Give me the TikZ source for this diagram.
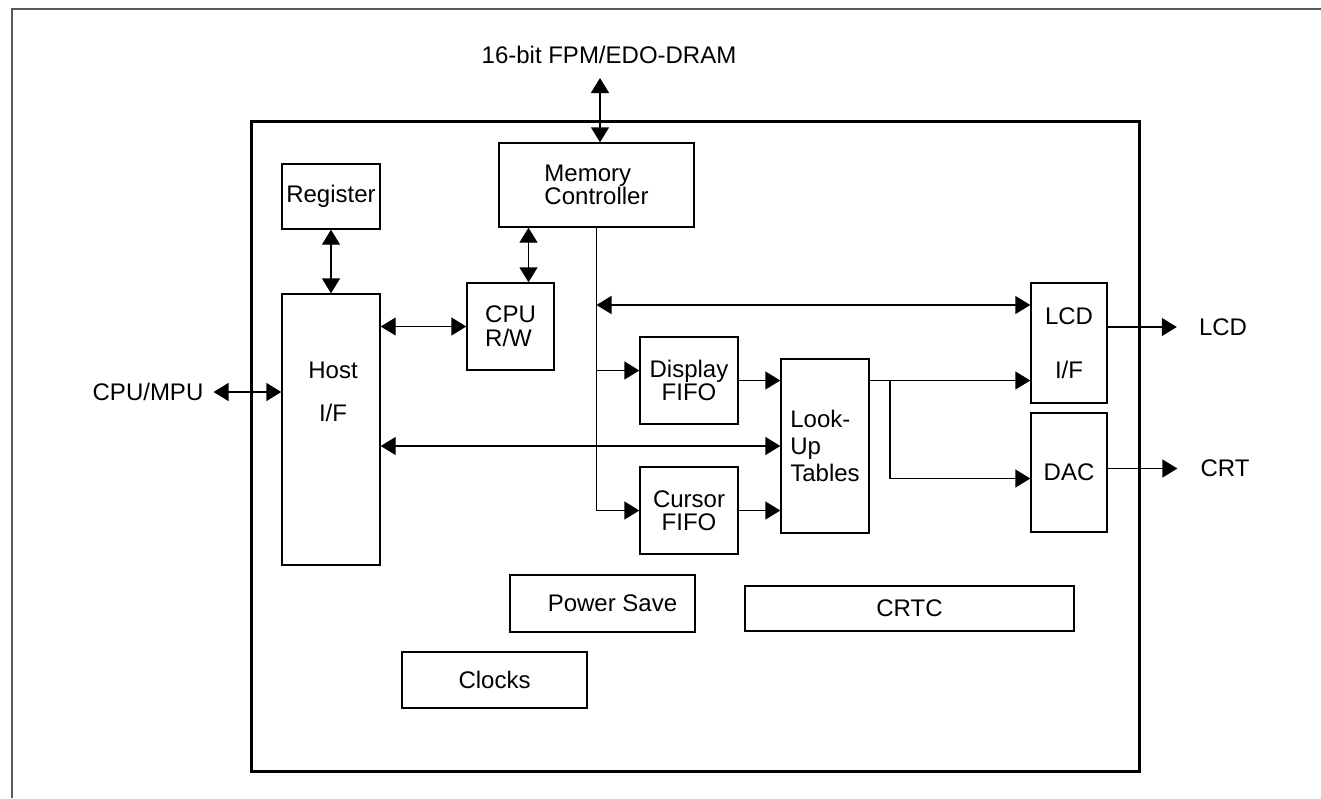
\documentclass[tikz,border=0pt]{standalone}
\usepackage{fontspec}
\setmainfont{Liberation Sans}
\usepackage{tikz}
\usetikzlibrary{arrows.meta,positioning,calc}

\begin{document}
\begin{tikzpicture}[
    x=1pt, y=-1pt,
    box/.style={
        rectangle,
        draw,
        line width=1.4pt,
        align=center,
        inner sep=0pt,
        font=\fontsize{24}{23}\selectfont
    },
    lbl/.style={
        inner sep=0pt,
        align=center,
        font=\fontsize{24}{23}\selectfont
    },
    arrow/.style={
        line width=1.4pt,
        -{Triangle[length=15pt,width=18pt]}
    },
    dblarrow/.style={
        line width=1.4pt,
        {Triangle[length=15pt,width=18pt]}-{Triangle[length=15pt,width=18pt]}
    }
]
\useasboundingbox (0,0) rectangle (1321,798);

% Page frame and chip outline
\draw[line width=2pt, black!65] (12,798) -- (12,9) -- (1321,9);
\draw[line width=3pt] (251,121) rectangle (1139,771);

% Top row
\node[box, align=left, minimum width=195pt, minimum height=84pt] (memctrl) at (596.5,185) {Memory\\Controller};
\node[box, minimum width=98pt, minimum height=65pt] (reg) at (331,196.5) {Register};
\node[lbl] (dram) at (609,55) {16-bit FPM/EDO-DRAM};
\coordinate (dramtip) at (600,78);

% Host side
\node[box, minimum width=98pt, minimum height=271pt] (host) at (331,429.5) {};
\node[lbl] (hostlbl) at (333,392) {Host\\[20pt]I/F};
\node[box, align=left, minimum width=87pt, minimum height=87pt] (cpurw) at (510.5,326.5) {CPU\\[1pt]R/W};
\node[lbl] (cpumpu) at (148,392) {CPU/MPU};

% FIFOs and look-up tables
\node[box, minimum width=98pt, minimum height=87pt] (dispfifo) at (689,380.5) {Display\\FIFO};
\node[box, minimum width=98pt, minimum height=87pt] (curfifo) at (689,510.5) {Cursor\\FIFO};
\node[box, align=left, minimum width=88pt, minimum height=174pt] (lut) at (825,446) {Look-\\[4pt]Up\\[4pt]Tables};

% Outputs
\node[box, minimum width=76pt, minimum height=120pt] (lcdif) at (1069,343) {LCD\\[31pt]I/F};
\node[box, minimum width=76pt, minimum height=119pt] (dac) at (1069,472.5) {DAC};
\node[lbl] (lcdout) at (1223,327) {LCD};
\node[lbl] (crtout) at (1225,468) {CRT};

% Bottom row
\node[box, minimum width=185pt, minimum height=57pt] (pwrsave) at (602.5,603.5) {\hspace*{20pt}Power Save};
\node[box, minimum width=329pt, minimum height=45pt] (crtc) at (909.5,608.5) {CRTC};
\node[box, minimum width=185pt, minimum height=56pt] (clocks) at (494.5,680) {Clocks};

% Helper points
\coordinate (dispin) at ([yshift=10pt]dispfifo.west);
\coordinate (lcdbus) at ([yshift=38pt]lcdif.west);
\coordinate (dacin) at ([yshift=-6pt]dac.west);
\coordinate (tap) at (890,380.5);
\coordinate (lcdsrc) at ([yshift=16pt]lcdif.east);
\coordinate (crtsrc) at ([yshift=4pt]dac.east);
\coordinate (lcdtip) at ([xshift=-22pt]lcdout.west);
\coordinate (crttip) at ([xshift=-23pt]crtout.west);
\coordinate (mputip) at ([xshift=10pt]cpumpu.east);

% Arrows
\draw[dblarrow] (dramtip) -- (dramtip |- memctrl.north);
\draw[dblarrow] (reg.south) -- (host.north);
\draw[dblarrow] ([xshift=18pt]cpurw.north |- memctrl.south) -- ([xshift=18pt]cpurw.north);
\draw[dblarrow] (host.east |- cpurw.west) -- (cpurw.west);
\draw[dblarrow] (mputip) -- (mputip -| host.west);
\draw[dblarrow] (host.east |- lut.west) -- (lut.west);

% Memory controller trunk
\draw[arrow] (memctrl.south) |- (curfifo.west);
\draw[arrow] (memctrl.south |- dispin) -- (dispin);
\draw[dblarrow] (memctrl.south |- lcdbus) -- (lcdbus);

% Into and out of the look-up tables
\draw[arrow] (dispfifo.east) -- (dispfifo.east -| lut.west);
\draw[arrow] (curfifo.east) -- (curfifo.east -| lut.west);
\draw[arrow] (lut.east |- dispfifo.east) -- (lcdif.west |- dispfifo.east);
\draw[arrow] (tap) |- (dacin);

% Off-chip outputs
\draw[arrow] (lcdsrc) -- (lcdtip |- lcdsrc);
\draw[arrow] (crtsrc) -- (crttip |- crtsrc);

\end{tikzpicture}
\end{document}
